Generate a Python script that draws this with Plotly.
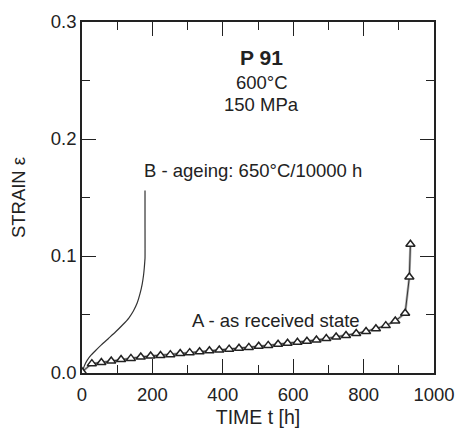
import plotly.graph_objects as go

# Series A - as received state (time h, strain)
time_a = [0, 28, 55, 83, 111, 139, 167, 195, 223, 251, 279, 306, 334, 362, 390, 418,
          446, 474, 502, 529, 557, 584, 612, 639, 666, 694, 722, 750, 779, 807, 835,
          863, 890, 918, 930, 933]
strain_a = [0.001, 0.008, 0.009, 0.0103, 0.0115, 0.0125, 0.0137, 0.0145, 0.015, 0.0157,
            0.0166, 0.0174, 0.0181, 0.019, 0.0197, 0.0204, 0.0211, 0.0219, 0.0228, 0.0236,
            0.0246, 0.0254, 0.0262, 0.0271, 0.0282, 0.0294, 0.0307, 0.032, 0.0338, 0.0355,
            0.0378, 0.0405, 0.0445, 0.051, 0.082, 0.110]

# Series B - ageing 650°C/10000 h
time_b = [0, 3, 8, 15, 25, 38, 55, 75, 95, 115, 133, 146, 157, 165, 171, 175, 177,
          178.3, 179, 179, 179]
strain_b = [0, 0.003, 0.007, 0.011, 0.015, 0.019, 0.024, 0.0295, 0.035, 0.041, 0.047,
            0.053, 0.060, 0.068, 0.076, 0.084, 0.090, 0.095, 0.098, 0.13, 0.156]

x_ticks = [0, 200, 400, 600, 800, 1000]
y_ticks = [0.0, 0.1, 0.2, 0.3]

font = "Liberation Sans, Arial, sans-serif"
ink = "#222222"

fig = go.Figure()
fig.add_trace(go.Scatter(x=time_b, y=strain_b, mode="lines", line_shape="spline",
                         line=dict(color="#333333", width=1.2, smoothing=0.6),
                         showlegend=False))
fig.add_trace(go.Scatter(x=time_a, y=strain_a, mode="lines",
                         line=dict(color="#b0b0b0", width=2.5), showlegend=False,
                         hoverinfo="skip"))
fig.add_trace(go.Scatter(x=time_a, y=strain_a, mode="lines+markers",
                         line=dict(color="#333333", width=1),
                         marker=dict(symbol="triangle-up", size=8, color="white",
                                     line=dict(width=1.5, color=ink)),
                         showlegend=False))

axis_common = dict(showgrid=False, zeroline=False, showline=True, linecolor=ink,
                   linewidth=1.5, mirror="ticks", ticks="inside", tickcolor=ink,
                   tickwidth=1.2, ticklen=14, automargin=False,
                   tickfont=dict(family=font, size=18.5, color=ink))

fig.update_xaxes(range=[0, 1000], tickvals=x_ticks, ticklabelstandoff=4,
                 minor=dict(dtick=100, ticks="inside", ticklen=8, tickcolor=ink, tickwidth=1.2),
                 title=dict(text="TIME t [h]", font=dict(family=font, size=19.5, color=ink),
                            standoff=10),
                 **axis_common)
fig.update_yaxes(range=[0, 0.3], tickvals=y_ticks, tickformat=".1f",
                 minor=dict(dtick=0.05, ticks="inside", ticklen=8, tickcolor=ink, tickwidth=1.2),
                 title=dict(text="STRAIN ε", font=dict(family=font, size=18.5, color=ink),
                            standoff=20),
                 **axis_common)

annotations = [
    dict(x=0.51, y=0.30 - (57 - 22) / 1170, text="<b>P 91</b>", size=21),
    dict(x=0.51, y=0.30 - (82 - 22) / 1170, text="600°C", size=18.5),
    dict(x=0.51, y=0.30 - (104 - 22) / 1170, text="150 MPa", size=18.5),
]
for a in annotations:
    fig.add_annotation(x=a["x"], xref="x domain", y=a["y"], yref="y", text=a["text"],
                       showarrow=False, borderpad=0,
                       font=dict(family=font, size=a["size"], color=ink))

fig.add_annotation(x=170, y=0.173, xref="x", yref="y", xanchor="left",
                   text="B - ageing: 650°C/10000 h", showarrow=False,
                   font=dict(family=font, size=18.5, color=ink))
fig.add_annotation(x=307, y=0.045, xref="x", yref="y", xanchor="left",
                   text="A - as received state", showarrow=False,
                   font=dict(family=font, size=18.5, color=ink))

fig.update_layout(width=459, height=428, margin=dict(l=82, r=25, t=22, b=55),
                  paper_bgcolor="white", plot_bgcolor="white",
                  font=dict(family=font, color=ink))

fig.write_html("out.html")
